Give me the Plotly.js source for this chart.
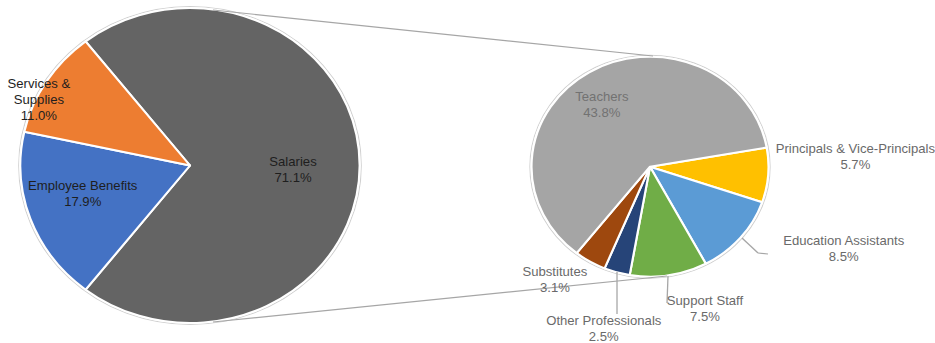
<!DOCTYPE html>
<html>
<head>
<meta charset="utf-8">
<script src="https://cdn.plot.ly/plotly-3.0.1.min.js"></script>
<style>
html,body{margin:0;padding:0;background:#fff;overflow:hidden;}
#wrap{width:935px;height:343px;overflow:hidden;}
#chart{width:868px;height:343px;transform:scaleX(1.0772);transform-origin:0 0;}
</style>
</head>
<body>
<div id="wrap"><div id="chart"></div></div>
<script>
// ---- data ----
const mainLabels = ['Salaries', 'Employee Benefits', 'Services & Supplies'];
const mainValues = [71.1, 17.9, 11.0];
const mainColors = ['#646464', '#4472C4', '#ED7D31'];

const subLabels = ['Principals & Vice-Principals', 'Education Assistants', 'Support Staff', 'Other Professionals', 'Substitutes', 'Teachers'];
const subValues = [5.7, 8.5, 7.5, 2.5, 3.1, 43.8];
const subColors = ['#FFC000', '#5B9BD5', '#70AD47', '#264478', '#9E480E', '#A5A5A5'];

// ---- layout helpers (pixel geometry of the 935x343 picture) ----
const W = 935, H = 343;
const S = 1.0772;                 // horizontal stretch of the picture
const PW = 868;                   // plot width before stretch
const px = x => x / W;
const py = y => 1 - y / H;

const mainCenter = [190, 165.5], mainR = 157.5;
const subCenter = [650, 166.7], subR = 110;

const mainLabelText = ['Salaries', 'Employee Benefits', 'Services &<br>Supplies'];
const mainLabelPos = [[293, 170], [83, 194], [39, 100]];
const subLabelPos = [[855, 157], [843, 249], [706, 309], [604, 329], [555, 280], [602, 105]];

const fontFam = 'Liberation Sans, Arial, sans-serif';
const fontSize = 12.2;

const dom = (c, r) => ({
  x: [px(c[0] - r * S), px(c[0] + r * S)],
  y: [py(c[1] + r), py(c[1] - r)]
});

const traces = [
  {
    type: 'pie', labels: mainLabels, values: mainValues, sort: false,
    direction: 'clockwise', rotation: -38, textinfo: 'none', hoverinfo: 'label+percent',
    marker: { colors: mainColors, line: { color: '#ffffff', width: 2 } },
    domain: dom(mainCenter, mainR), showlegend: false
  },
  {
    type: 'pie', labels: subLabels, values: subValues, sort: false,
    direction: 'clockwise', rotation: 80, textinfo: 'none', hoverinfo: 'label+value',
    marker: { colors: subColors, line: { color: '#ffffff', width: 2 } },
    domain: dom(subCenter, subR), showlegend: false
  }
];

const total = mainValues.reduce((a, b) => a + b, 0);
const annotations = [];
mainLabels.forEach((l, i) => {
  annotations.push({
    xref: 'paper', yref: 'paper', x: px(mainLabelPos[i][0]), y: py(mainLabelPos[i][1]),
    xanchor: 'center', yanchor: 'middle', showarrow: false,
    text: mainLabelText[i] + '<br>' + (mainValues[i] / total * 100).toFixed(1) + '%',
    font: { family: fontFam, size: fontSize, color: '#1e1e1e' }
  });
});
subLabels.forEach((l, i) => {
  annotations.push({
    xref: 'paper', yref: 'paper', x: px(subLabelPos[i][0]), y: py(subLabelPos[i][1]),
    xanchor: 'center', yanchor: 'middle', showarrow: false,
    text: l + '<br>' + (subValues[i] / total * 100).toFixed(1) + '%',
    font: { family: fontFam, size: fontSize, color: i === 5 ? '#727272' : '#6a6a6a' }
  });
});

const lineStyle = { color: '#a6a6a6', width: 1.2 };
const seg = (x0, y0, x1, y1) => ({ type: 'line', xref: 'paper', yref: 'paper', x0: px(x0), y0: py(y0), x1: px(x1), y1: py(y1), line: lineStyle });
const ring = (c, r) => ({
  type: 'circle', xref: 'paper', yref: 'paper', xsizemode: 'pixel', ysizemode: 'pixel',
  xanchor: px(c[0]), yanchor: py(c[1]), x0: -(r + 1.5), x1: r + 1.5, y0: -(r + 1.5), y1: r + 1.5,
  line: { color: '#d0d0d0', width: 1 }, layer: 'below'
});

const shapes = [
  ring(mainCenter, mainR),
  ring(subCenter, subR),
  // connector lines between the two pies
  seg(213, 10, 653, 56),
  seg(213, 322, 667, 276),
  // leader lines
  seg(742, 238, 758, 253),
  seg(758, 253, 768, 254),
  seg(668, 276, 667, 303),
  seg(617, 272, 617, 314)
];

const layout = {
  width: PW, height: H,
  margin: { l: 0, r: 0, t: 0, b: 0 },
  paper_bgcolor: '#ffffff', plot_bgcolor: '#ffffff',
  font: { family: fontFam },
  annotations: annotations,
  shapes: shapes,
  showlegend: false
};

Plotly.newPlot('chart', traces, layout, { displayModeBar: false, staticPlot: true });
</script>
</body>
</html>
